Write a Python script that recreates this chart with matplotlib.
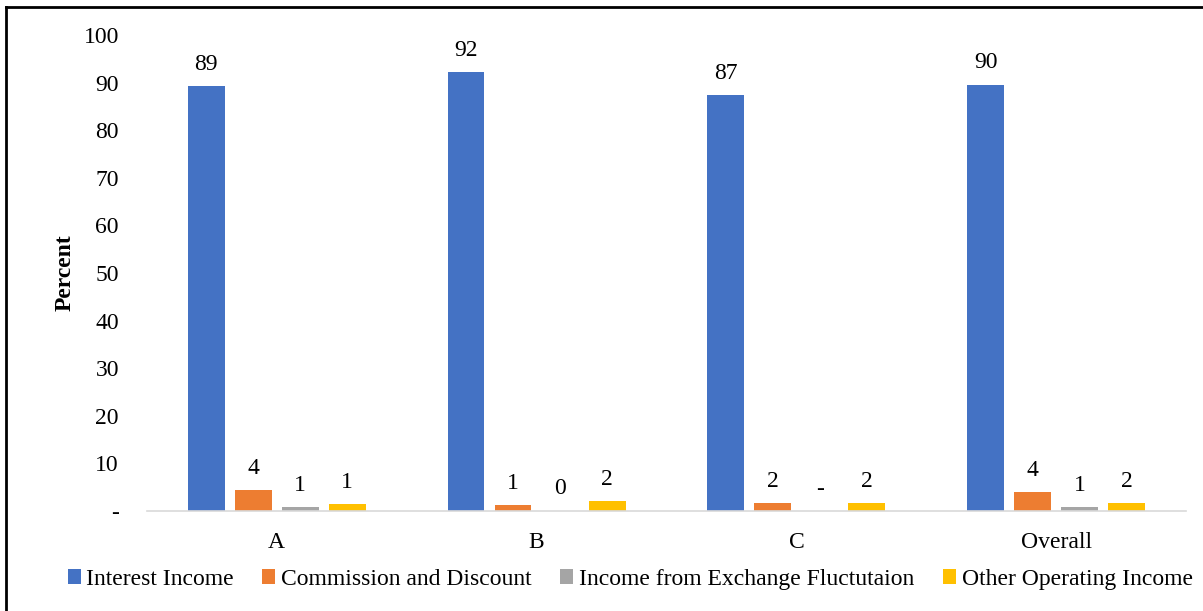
import matplotlib
matplotlib.use('Agg')

import numpy as np
import matplotlib.pyplot as plt
from matplotlib.lines import Line2D

groups = ["A", "B", "C", "Overall"]
series = ["Interest Income", "Commission and Discount",
          "Income from Exchange Fluctutaion", "Other Operating Income"]
interest = [89.2, 92.3, 87.4, 89.6]
commission = [4.4, 1.3, 1.6, 4.0]
exchange = [0.8, 0.1, 0.0, 0.8]
other = [1.4, 2.0, 1.6, 1.6]
y_ticks = [0, 10, 20, 30, 40, 50, 60, 70, 80, 90, 100]

colors = ["#4472C4", "#ED7D31", "#A5A5A5", "#FFC000"]

plt.rcParams['font.family'] = ['Liberation Serif', 'DejaVu Serif']
fs = 17

fig = plt.figure(figsize=(12.03, 6.11), dpi=100)
ax = fig.add_axes([0.122, 0.1637, 0.864, 0.779])

x = np.arange(len(groups))
step = 0.181
width = 0.142
for i, (name, vals) in enumerate(zip(series, [interest, commission, exchange, other])):
    pos = x + (i - 1.5) * step
    bars = ax.bar(pos, vals, width, color=colors[i], label=name)
    for b, v in zip(bars, vals):
        txt = "-" if v == 0 else f"{v:.0f}"
        ax.annotate(txt, (b.get_x() + b.get_width() / 2, v),
                    xytext=(0, 8), textcoords='offset points',
                    ha='center', va='bottom', fontsize=fs)

ax.set_xlim(-0.5, len(groups) - 0.5)
ax.set_ylim(0, 100)
ax.set_yticks(y_ticks)
ax.set_yticklabels(["-" if t == 0 else str(t) for t in y_ticks], fontsize=fs)
ax.set_xticks(x)
ax.set_xticklabels(groups, fontsize=fs)
ax.tick_params(axis='y', length=0, pad=20)
ax.tick_params(axis='x', length=0, pad=15)
for s in ['top', 'right', 'left']:
    ax.spines[s].set_visible(False)
ax.spines['bottom'].set_color('#D9D9D9')
ax.spines['bottom'].set_linewidth(1.2)
ax.set_ylabel("Percent", fontsize=fs, fontweight='bold', labelpad=6)

ax.legend(loc='upper center', bbox_to_anchor=(0.465, -0.077), ncol=4,
          frameon=False, fontsize=fs, handlelength=0.55, handleheight=0.55,
          handletextpad=0.25, columnspacing=1.2)

# border on the left and top edges of the chart area
fig.add_artist(Line2D([0.005, 0.005], [0.0, 0.989], transform=fig.transFigure,
                      color='black', linewidth=2))
fig.add_artist(Line2D([0.005, 1.0], [0.989, 0.989], transform=fig.transFigure,
                      color='black', linewidth=2))

fig.savefig("out.png", dpi=100)
